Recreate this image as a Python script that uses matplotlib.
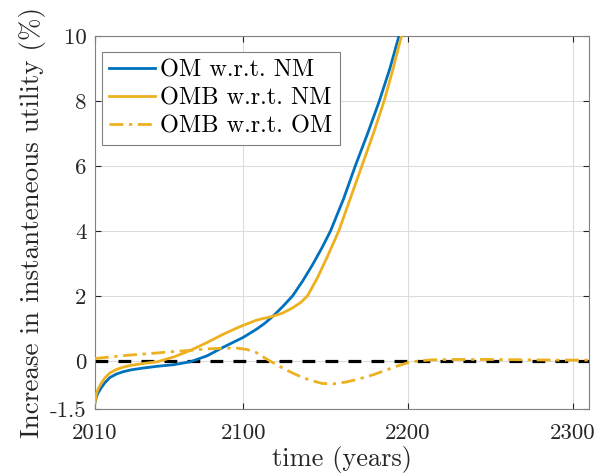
import numpy as np
import matplotlib
matplotlib.use("Agg")
import matplotlib.pyplot as plt

plt.rcParams['font.family'] = ['cmr10', 'DejaVu Serif']
plt.rcParams['axes.formatter.use_mathtext'] = True

# OM w.r.t. NM
yr_om = [2010, 2011, 2012, 2014, 2016, 2019, 2023, 2027, 2032, 2040, 2048, 2058,
         2068, 2078, 2088, 2100, 2108, 2113, 2118, 2124, 2130, 2136, 2142, 2148,
         2153, 2161, 2168, 2175.5, 2182.6, 2189, 2194.5, 2199]
om_nm = [-1.3, -1.1, -0.98, -0.82, -0.68, -0.52, -0.41, -0.34, -0.28, -0.22, -0.17, -0.12,
         -0.03, 0.15, 0.42, 0.72, 0.97, 1.15, 1.37, 1.67, 2.0, 2.45, 2.95, 3.5,
         4.0, 5.0, 6.0, 7.0, 8.0, 9.0, 10.0, 11.0]

# OMB w.r.t. NM
yr_omb = [2010, 2011, 2012, 2014, 2016, 2019, 2023, 2027, 2032, 2040, 2048, 2058,
          2068, 2078, 2088, 2098, 2108, 2118, 2124, 2130, 2135, 2139, 2145, 2151,
          2158, 2165, 2172, 2179, 2185.5, 2191, 2196, 2200]
omb_nm = [-1.3, -1.0, -0.86, -0.68, -0.53, -0.38, -0.27, -0.20, -0.14, -0.08, -0.03, 0.12,
          0.32, 0.56, 0.82, 1.05, 1.25, 1.37, 1.47, 1.63, 1.80, 2.0, 2.55, 3.2,
          4.0, 5.0, 6.0, 7.0, 8.0, 9.0, 10.0, 10.7]

# OMB w.r.t. OM
yr_rel = [2010, 2020, 2030, 2040, 2050, 2060, 2070, 2080, 2090, 2096, 2102, 2108,
          2112, 2116, 2122, 2128, 2134, 2140, 2148, 2155, 2163, 2171, 2179, 2186,
          2193, 2200, 2207, 2215, 2230, 2250, 2270, 2290, 2310]
omb_om = [0.07, 0.12, 0.17, 0.21, 0.25, 0.29, 0.33, 0.37, 0.39, 0.39, 0.35, 0.25,
          0.12, 0.0, -0.17, -0.33, -0.47, -0.59, -0.70, -0.71, -0.65, -0.55, -0.43, -0.30,
          -0.17, -0.06, 0.0, 0.03, 0.04, 0.04, 0.03, 0.02, 0.02]

xticks = [2010, 2100, 2200, 2300]
yticks = [-1.5, 0, 2, 4, 6, 8, 10]
ytick_labels = ['-1.5', '0', '2', '4', '6', '8', '10']

blue = '#0072BD'
gold = '#EDB120'
axcol = '#262626'

fig = plt.figure(figsize=(5.97, 4.75), dpi=100)
ax = fig.add_axes([0.159, 0.138, 0.828, 0.786])

ax.plot([2010, 2310], [0, 0], color='k', lw=2.3, ls=(0, (4, 3.2)), zorder=2)
ax.plot(yr_om, om_nm, color=blue, lw=2, label='OM w.r.t. NM', zorder=3)
ax.plot(yr_omb, omb_nm, color=gold, lw=2, label='OMB w.r.t. NM', zorder=3)
ax.plot(yr_rel, omb_om, color=gold, lw=2, ls=(0, (5, 2, 1.2, 2)),
        label='OMB w.r.t. OM', zorder=3)

ax.set_xlim(2010, 2310)
ax.set_ylim(-1.5, 10)
ax.set_xticks(xticks)
ax.set_xticklabels([str(t) for t in xticks])
ax.set_yticks(yticks)
ax.set_yticklabels(ytick_labels)
ax.grid(True, color='#dcdcdc', lw=0.8)
ax.set_axisbelow(True)

ax.tick_params(direction='in', length=4, width=0.8, colors=axcol,
               labelsize=16.5, top=True, right=True)
ax.tick_params(axis='x', pad=10)
ax.tick_params(axis='y', pad=6)
for sp in ax.spines.values():
    sp.set_color('#808080')
    sp.set_linewidth(0.8)

ax.set_xlabel('time (years)', fontsize=19, color=axcol, labelpad=2)
ax.set_ylabel('Increase in instanteneous utility (%)', fontsize=19.5,
              color=axcol, labelpad=3)

leg = ax.legend(loc='upper left', bbox_to_anchor=(0.0136, 0.958), borderaxespad=0,
                fontsize=17.5, handlelength=1.9, handletextpad=0.2, borderpad=0.3,
                labelspacing=0.25, fancybox=False, framealpha=1)
leg.get_frame().set_edgecolor('#808080')
leg.get_frame().set_linewidth(0.8)

fig.savefig('out.png', dpi=100)
